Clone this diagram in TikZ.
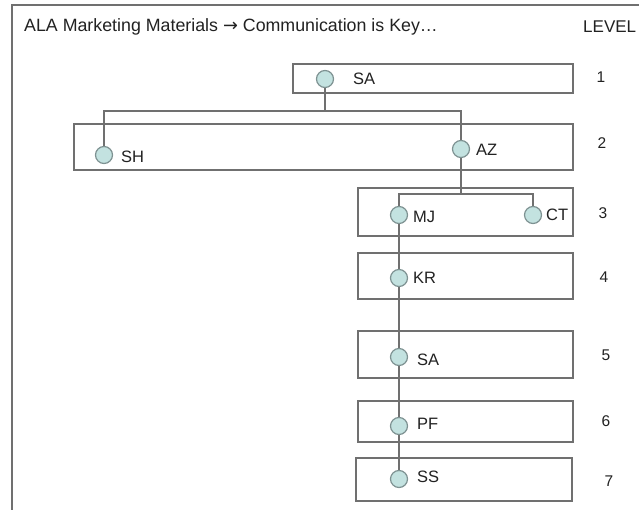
\documentclass[tikz,border=0pt]{standalone}
\usepackage{fontspec}
\setmainfont{Liberation Sans}
\newfontfamily\arrowfont{DejaVu Sans}
\usepackage{tikz}
\usetikzlibrary{backgrounds}

\definecolor{linegray}{HTML}{707070}
\definecolor{dotfill}{HTML}{C3E2E0}
\definecolor{dotedge}{HTML}{7E9292}
\definecolor{inkgray}{HTML}{222222}

\begin{document}
\begin{tikzpicture}[x=1pt, y=-1pt,
  lvbox/.style={draw=linegray, line width=1.4pt, minimum width=#1, inner sep=0pt},
  dot/.style={circle, draw=dotedge, line width=1.2pt, fill=dotfill, minimum size=17pt, inner sep=0pt},
  tag/.style={anchor=west, inner sep=0pt, text=inkgray, font=\fontsize{16.5}{18}\selectfont},
  lvnum/.style={inner sep=0pt, text=inkgray, font=\fontsize{15.5}{17}\selectfont},
  wire/.style={draw=linegray, line width=1.1pt}]

\useasboundingbox (0,0) rectangle (639,510);

% Frame and heading
\draw[linegray, line width=1.3pt] (12,512) -- (12,5) -- (641,5);
\node[tag, font=\fontsize{17.8}{19}\selectfont] (title) at (24,27) {ALA Marketing Materials {\arrowfont →} Communication is Key\ldots};
\node[tag, font=\fontsize{17}{19}\selectfont] (lvhead) at (583,27) {LEVEL};

% Level boxes
\node[lvbox=280pt, minimum height=29pt] (lv1) at (433,78.5) {};
\node[lvbox=499pt, minimum height=46pt] (lv2) at (323.5,147) {};
\node[lvbox=215pt, minimum height=48pt] (lv3) at (465.5,212) {};
\node[lvbox=215pt, minimum height=46pt] (lv4) at (465.5,276) {};
\node[lvbox=215pt, minimum height=47pt] (lv5) at (465.5,354.5) {};
\node[lvbox=215pt, minimum height=41pt] (lv6) at (465.5,421.5) {};
\node[lvbox=216pt, minimum height=43pt] (lv7) at (464,479.5) {};

% Level numbers
\node[lvnum] (n1) at (601,77) {1};
\node[lvnum] (n2) at (602,143) {2};
\node[lvnum] (n3) at (603,213) {3};
\node[lvnum] (n4) at (604,277) {4};
\node[lvnum] (n5) at (606,355) {5};
\node[lvnum] (n6) at (606,421) {6};
\node[lvnum] (n7) at (609,481) {7};

% People
\node[dot] (sa1) at (325,79) {};
\node[dot] (sh) at (104,155) {};
\node[dot] (az) at (461,149) {};
\node[dot] (mj) at (399,215) {};
\node[dot] (ct) at (533,215) {};
\node[dot] (kr) at (399,278) {};
\node[dot] (sa2) at (399,357) {};
\node[dot] (pf) at (399,426) {};
\node[dot] (ss) at (399,479) {};

\node[tag] (tsa1) at (353,79) {SA};
\node[tag] (tsh) at (121,157) {SH};
\node[tag] (taz) at (476,150) {AZ};
\node[tag] (tmj) at (413,217) {MJ};
\node[tag] (tct) at (546,215) {CT};
\node[tag] (tkr) at (413,278) {KR};
\node[tag] (tsa2) at (417,360) {SA};
\node[tag] (tpf) at (417,424) {PF};
\node[tag] (tss) at (417,477) {SS};

% Reporting lines
\coordinate (split1) at (325,111);
\coordinate (split2) at (461,194);
\begin{scope}[on background layer]
\fill[white] (0,0) rectangle (639,510);
\draw[wire] (sa1) -- (split1);
\draw[wire] (sh) |- (split1) -| (az);
\draw[wire] (az) -- (split2);
\draw[wire] (mj) |- (split2) -| (ct);
\draw[wire] (mj) -- (kr) -- (sa2) -- (pf) -- (ss);
\end{scope}

\end{tikzpicture}
\end{document}
